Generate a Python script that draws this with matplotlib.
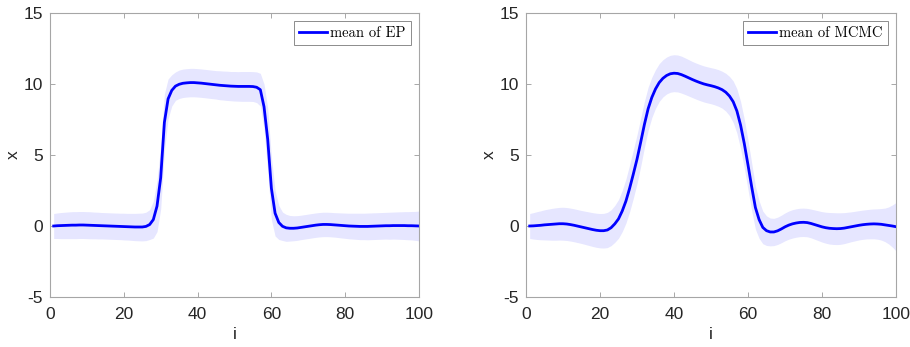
import matplotlib
matplotlib.use("Agg")
import matplotlib.pyplot as plt
import numpy as np

plt.rcParams['font.family'] = ['Liberation Sans', 'DejaVu Sans']
plt.rcParams['axes.unicode_minus'] = False

# index i = 1..100
i_vals = np.arange(1, 101)

ep_mean = [0.00, 0.02, 0.03, 0.04, 0.05, 0.06, 0.06, 0.07, 0.07, 0.06,
           0.05, 0.04, 0.03, 0.02, 0.01, 0.00, -0.01, -0.02, -0.03, -0.04,
           -0.05, -0.06, -0.07, -0.07, -0.07, -0.03, 0.10, 0.45, 1.40, 3.40,
           7.30, 8.95, 9.55, 9.85, 9.98, 10.05, 10.08, 10.10, 10.10, 10.08,
           10.06, 10.03, 10.00, 9.97, 9.94, 9.91, 9.89, 9.87, 9.85, 9.84,
           9.83, 9.83, 9.83, 9.83, 9.82, 9.77, 9.60, 8.40, 6.10, 2.65,
           0.90, 0.25, -0.02, -0.13, -0.16, -0.16, -0.14, -0.10, -0.06, -0.02,
           0.02, 0.06, 0.09, 0.11, 0.11, 0.10, 0.08, 0.06, 0.04, 0.02,
           0.00, -0.01, -0.02, -0.03, -0.03, -0.03, -0.02, -0.01, 0.00, 0.01,
           0.02, 0.02, 0.03, 0.03, 0.03, 0.03, 0.02, 0.02, 0.01, 0.00]

ep_std = [0.88, 0.90, 0.92, 0.93, 0.94, 0.95, 0.95, 0.95, 0.95, 0.95,
          0.95, 0.94, 0.94, 0.93, 0.93, 0.93, 0.93, 0.93, 0.93, 0.94,
          0.94, 0.95, 0.96, 0.97, 0.98, 1.00, 1.05, 1.30, 1.80, 2.20,
          2.00, 1.40, 1.10, 1.00, 1.00, 1.00, 1.00, 1.00, 1.00, 1.00,
          1.00, 1.00, 1.00, 1.00, 1.00, 1.02, 1.02, 1.03, 1.03, 1.04,
          1.04, 1.05, 1.05, 1.05, 1.05, 1.08, 1.15, 1.60, 2.20, 2.20,
          1.60, 1.20, 1.00, 0.95, 0.90, 0.88, 0.87, 0.86, 0.86, 0.86,
          0.86, 0.86, 0.86, 0.86, 0.86, 0.86, 0.86, 0.87, 0.88, 0.89,
          0.90, 0.91, 0.92, 0.93, 0.93, 0.94, 0.94, 0.94, 0.94, 0.94,
          0.94, 0.95, 0.95, 0.96, 0.97, 0.98, 0.99, 1.00, 1.02, 1.05]

mcmc_mean = [0.00, 0.01, 0.03, 0.05, 0.08, 0.10, 0.12, 0.14, 0.16, 0.16,
             0.14, 0.10, 0.05, -0.01, -0.07, -0.13, -0.19, -0.25, -0.30, -0.33,
             -0.33, -0.28, -0.12, 0.15, 0.50, 1.05, 1.75, 2.65, 3.65, 4.70,
             5.90, 7.15, 8.25, 9.05, 9.65, 10.10, 10.40, 10.60, 10.72, 10.76,
             10.74, 10.66, 10.55, 10.43, 10.31, 10.20, 10.10, 10.01, 9.94, 9.88,
             9.81, 9.72, 9.60, 9.42, 9.15, 8.75, 8.10, 7.10, 5.80, 4.30,
             2.75, 1.30, 0.45, -0.10, -0.33, -0.42, -0.42, -0.34, -0.21, -0.06,
             0.06, 0.15, 0.21, 0.25, 0.26, 0.24, 0.18, 0.10, 0.02, -0.06,
             -0.12, -0.16, -0.18, -0.19, -0.18, -0.15, -0.10, -0.05, 0.00, 0.05,
             0.09, 0.12, 0.14, 0.15, 0.14, 0.12, 0.08, 0.04, 0.00, -0.05]

mcmc_std = [0.88, 0.93, 0.98, 1.02, 1.06, 1.09, 1.12, 1.14, 1.15, 1.16,
            1.16, 1.16, 1.16, 1.16, 1.16, 1.17, 1.18, 1.19, 1.20, 1.21,
            1.22, 1.24, 1.26, 1.30, 1.36, 1.45, 1.55, 1.65, 1.70, 1.72,
            1.70, 1.62, 1.52, 1.42, 1.36, 1.33, 1.31, 1.30, 1.30, 1.30,
            1.30, 1.30, 1.29, 1.28, 1.27, 1.27, 1.27, 1.27, 1.27, 1.27,
            1.28, 1.29, 1.30, 1.33, 1.38, 1.46, 1.56, 1.66, 1.72, 1.74,
            1.68, 1.52, 1.32, 1.15, 1.04, 0.98, 0.96, 0.96, 0.97, 0.98,
            0.99, 1.00, 1.00, 1.00, 1.00, 1.00, 1.01, 1.03, 1.05, 1.07,
            1.09, 1.11, 1.12, 1.12, 1.11, 1.09, 1.07, 1.05, 1.04, 1.03,
            1.03, 1.03, 1.04, 1.05, 1.07, 1.11, 1.18, 1.30, 1.48, 1.70]

panels = [(ep_mean, ep_std, 'mean of EP'),
          (mcmc_mean, mcmc_std, 'mean of MCMC')]

fig = plt.figure(figsize=(9.1, 3.47), dpi=100)
ax_pos = [[50/910, 50/347, 369/910, 284/347],
          [526/910, 50/347, 370/910, 284/347]]

for pos, (m, s, lab) in zip(ax_pos, panels):
    ax = fig.add_axes(pos)
    m = np.array(m)
    s = np.array(s)
    ax.fill_between(i_vals, m - s, m + s, color=(0.9, 0.9, 1.0), lw=0)
    ax.plot(i_vals, m, color=(0, 0, 1), lw=2, label=lab)
    ax.set_xlim(0, 100)
    ax.set_ylim(-5, 15)
    ax.set_xticks([0, 20, 40, 60, 80, 100])
    ax.set_yticks([-5, 0, 5, 10, 15])
    ax.tick_params(direction='in', top=True, right=True, length=3.5,
                   width=0.6, color='#9a9a9a', labelsize=12.5,
                   labelcolor='#262626')
    ax.tick_params(axis='x', pad=7)
    ax.tick_params(axis='y', pad=5)
    for sp in ax.spines.values():
        sp.set_color('#a6a6a6')
        sp.set_linewidth(0.8)
    ax.set_xlabel('i', fontsize=12.5, color='#262626', labelpad=4)
    ax.set_ylabel('x', fontsize=12.5, color='#262626', labelpad=2)
    leg = ax.legend(loc='upper right', prop={'family': 'cmr10', 'size': 10.5},
                    fancybox=False, framealpha=1, edgecolor='#8c8c8c',
                    handlelength=1.9, handletextpad=0.25, borderpad=0.35,
                    borderaxespad=0.55)
    leg.get_frame().set_linewidth(0.7)

fig.savefig('out.png', dpi=100)
